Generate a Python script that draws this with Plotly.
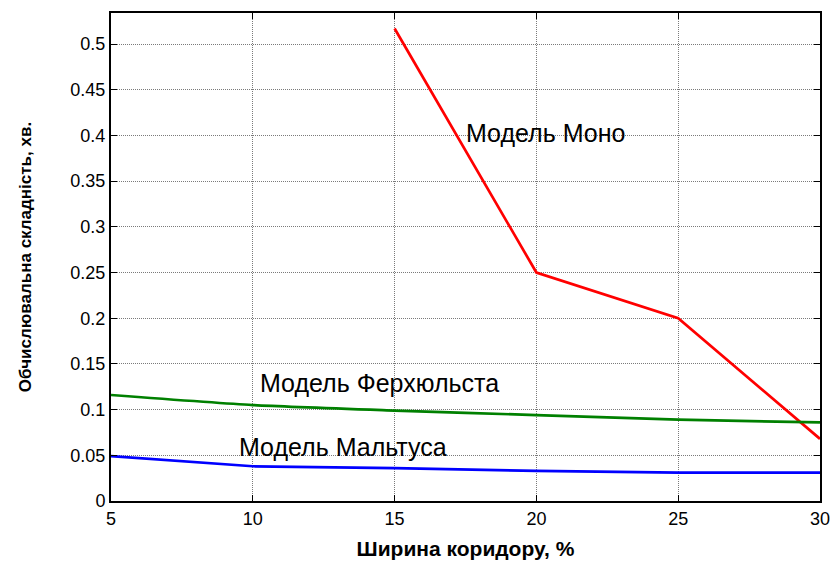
import plotly.graph_objects as go

# Corridor width, %
width_pct = [5, 10, 15, 20, 25, 30]

# Computational complexity, minutes
monod = [0.517, 0.25, 0.2, 0.068]
monod_x = [15, 20, 25, 30]
verhulst = [0.116, 0.105, 0.099, 0.094, 0.089, 0.086]
malthus = [0.049, 0.038, 0.036, 0.033, 0.031, 0.031]

x_ticks = [5, 10, 15, 20, 25, 30]
y_ticks = [0, 0.05, 0.1, 0.15, 0.2, 0.25, 0.3, 0.35, 0.4, 0.45, 0.5]
y_tick_text = ["0", "0.05", "0.1", "0.15", "0.2", "0.25", "0.3", "0.35", "0.4", "0.45", "0.5"]

FONT = "Liberation Sans, Arial, sans-serif"

fig = go.Figure()
fig.add_trace(go.Scatter(x=monod_x, y=monod, mode="lines",
                         line=dict(color="#ff0000", width=2.7), showlegend=False))
fig.add_trace(go.Scatter(x=width_pct, y=verhulst, mode="lines",
                         line=dict(color="#008000", width=2.7, shape="spline", smoothing=0.6),
                         showlegend=False))
fig.add_trace(go.Scatter(x=width_pct, y=malthus, mode="lines",
                         line=dict(color="#0000ff", width=2.7), showlegend=False))

label_font = dict(family=FONT, size=25, color="black")
fig.add_annotation(x=17.43, y=0.403, text="Модель Моно", showarrow=False,
                   xanchor="left", yanchor="middle", font=label_font)
fig.add_annotation(x=10.19, y=0.129, text="Модель Ферхюльста", showarrow=False,
                   xanchor="left", yanchor="middle", font=label_font)
fig.add_annotation(x=9.45, y=0.059, text="Модель Мальтуса", showarrow=False,
                   xanchor="left", yanchor="middle", font=label_font)

axis_common = dict(
    showline=True, linecolor="black", linewidth=2, mirror="ticks",
    ticks="inside", ticklen=6, tickcolor="black", tickwidth=1,
    showgrid=True, gridcolor="#7a7a7a", gridwidth=1, griddash="1px,1px",
    zeroline=False, automargin=False, ticklabeloverflow="allow",
)

fig.update_xaxes(range=[5, 30], tickvals=x_ticks,
                 tickfont=dict(family=FONT, size=18, color="black"),
                 title=dict(text="<b>Ширина коридору, %</b>", standoff=14,
                            font=dict(family=FONT, size=21, color="black")),
                 **axis_common)
fig.update_yaxes(range=[0, 0.534], tickvals=y_ticks, ticktext=y_tick_text,
                 tickfont=dict(family=FONT, size=18, color="black"),
                 title=dict(text="<b>Обчислювальна складність, хв.</b>", standoff=34,
                            font=dict(family=FONT, size=17, color="black")),
                 **axis_common)

fig.update_layout(
    width=830, height=563,
    margin=dict(l=111, r=10, t=13, b=62),
    plot_bgcolor="white", paper_bgcolor="white",
)

fig.write_html("out.html")
